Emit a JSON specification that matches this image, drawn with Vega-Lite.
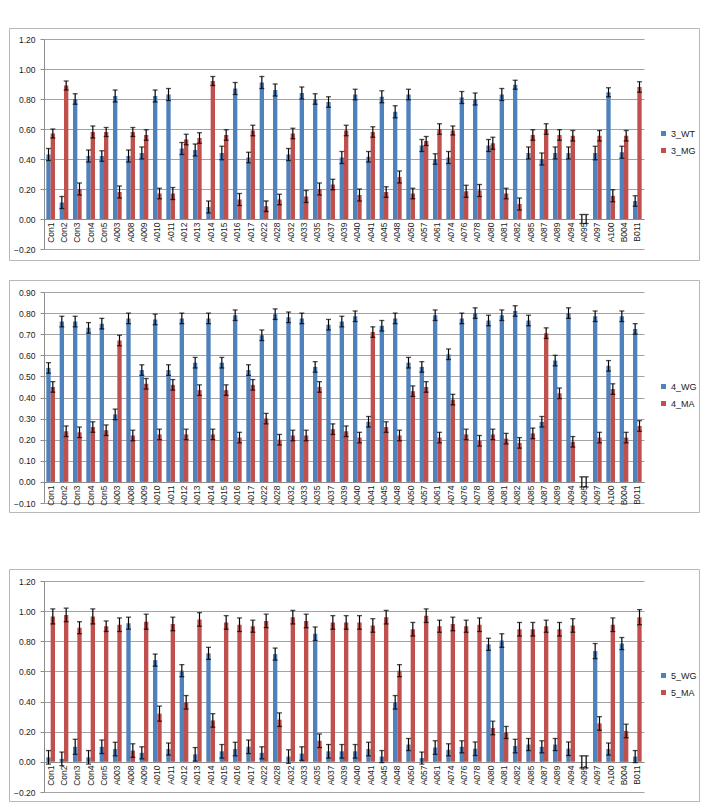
{
"$schema": "https://vega.github.io/schema/vega-lite/v6.json",
"padding": {"left": 8, "top": 27, "right": 0, "bottom": 0},
"config": {
 "font": "Liberation Sans",
 "view": {"stroke": "#b8b8b8", "strokeWidth": 1},
 "axis": {"labelColor": "#1a1a1a", "labelFontSize": 8.5, "labelOverlap": false, "domainColor": "#8c8c8c", "tickColor": "#8c8c8c", "gridColor": "#8c8c8c", "gridWidth": 0.8, "domainWidth": 1},
 "legend": {"labelFontSize": 9, "labelColor": "#1a1a1a", "symbolType": "square", "symbolSize": 25, "symbolStrokeWidth": 0, "rowPadding": 7, "labelOffset": 3, "padding": 0}
},
"datasets": {
"p3": [
{"s":"Con1","g":"3_WT","v":0.43,"lo":0.39,"hi":0.47},{"s":"Con1","g":"3_MG","v":0.57,"lo":0.54,"hi":0.60},
{"s":"Con2","g":"3_WT","v":0.11,"lo":0.07,"hi":0.15},{"s":"Con2","g":"3_MG","v":0.89,"lo":0.86,"hi":0.92},
{"s":"Con3","g":"3_WT","v":0.80,"lo":0.765,"hi":0.835},{"s":"Con3","g":"3_MG","v":0.20,"lo":0.16,"hi":0.24},
{"s":"Con4","g":"3_WT","v":0.42,"lo":0.38,"hi":0.46},{"s":"Con4","g":"3_MG","v":0.58,"lo":0.54,"hi":0.62},
{"s":"Con5","g":"3_WT","v":0.42,"lo":0.385,"hi":0.455},{"s":"Con5","g":"3_MG","v":0.58,"lo":0.55,"hi":0.61},
{"s":"A003","g":"3_WT","v":0.82,"lo":0.78,"hi":0.86},{"s":"A003","g":"3_MG","v":0.18,"lo":0.14,"hi":0.22},
{"s":"A008","g":"3_WT","v":0.42,"lo":0.38,"hi":0.46},{"s":"A008","g":"3_MG","v":0.58,"lo":0.55,"hi":0.61},
{"s":"A009","g":"3_WT","v":0.44,"lo":0.40,"hi":0.48},{"s":"A009","g":"3_MG","v":0.56,"lo":0.525,"hi":0.595},
{"s":"A010","g":"3_WT","v":0.82,"lo":0.78,"hi":0.86},{"s":"A010","g":"3_MG","v":0.17,"lo":0.135,"hi":0.205},
{"s":"A011","g":"3_WT","v":0.83,"lo":0.79,"hi":0.87},{"s":"A011","g":"3_MG","v":0.17,"lo":0.13,"hi":0.21},
{"s":"A012","g":"3_WT","v":0.47,"lo":0.43,"hi":0.51},{"s":"A012","g":"3_MG","v":0.53,"lo":0.495,"hi":0.565},
{"s":"A013","g":"3_WT","v":0.46,"lo":0.42,"hi":0.50},{"s":"A013","g":"3_MG","v":0.54,"lo":0.505,"hi":0.575},
{"s":"A014","g":"3_WT","v":0.08,"lo":0.04,"hi":0.12},{"s":"A014","g":"3_MG","v":0.92,"lo":0.89,"hi":0.95},
{"s":"A015","g":"3_WT","v":0.44,"lo":0.395,"hi":0.485},{"s":"A015","g":"3_MG","v":0.56,"lo":0.525,"hi":0.595},
{"s":"A016","g":"3_WT","v":0.87,"lo":0.83,"hi":0.91},{"s":"A016","g":"3_MG","v":0.13,"lo":0.09,"hi":0.17},
{"s":"A017","g":"3_WT","v":0.41,"lo":0.375,"hi":0.445},{"s":"A017","g":"3_MG","v":0.59,"lo":0.555,"hi":0.625},
{"s":"A022","g":"3_WT","v":0.91,"lo":0.87,"hi":0.95},{"s":"A022","g":"3_MG","v":0.085,"lo":0.05,"hi":0.12},
{"s":"A028","g":"3_WT","v":0.86,"lo":0.82,"hi":0.90},{"s":"A028","g":"3_MG","v":0.13,"lo":0.095,"hi":0.165},
{"s":"A032","g":"3_WT","v":0.43,"lo":0.39,"hi":0.47},{"s":"A032","g":"3_MG","v":0.57,"lo":0.535,"hi":0.605},
{"s":"A033","g":"3_WT","v":0.84,"lo":0.80,"hi":0.88},{"s":"A033","g":"3_MG","v":0.15,"lo":0.11,"hi":0.19},
{"s":"A035","g":"3_WT","v":0.80,"lo":0.765,"hi":0.835},{"s":"A035","g":"3_MG","v":0.20,"lo":0.16,"hi":0.24},
{"s":"A037","g":"3_WT","v":0.78,"lo":0.745,"hi":0.815},{"s":"A037","g":"3_MG","v":0.23,"lo":0.195,"hi":0.265},
{"s":"A039","g":"3_WT","v":0.41,"lo":0.37,"hi":0.45},{"s":"A039","g":"3_MG","v":0.59,"lo":0.555,"hi":0.625},
{"s":"A040","g":"3_WT","v":0.83,"lo":0.795,"hi":0.865},{"s":"A040","g":"3_MG","v":0.16,"lo":0.12,"hi":0.20},
{"s":"A041","g":"3_WT","v":0.415,"lo":0.38,"hi":0.45},{"s":"A041","g":"3_MG","v":0.58,"lo":0.545,"hi":0.615},
{"s":"A045","g":"3_WT","v":0.815,"lo":0.775,"hi":0.855},{"s":"A045","g":"3_MG","v":0.18,"lo":0.145,"hi":0.215},
{"s":"A048","g":"3_WT","v":0.715,"lo":0.675,"hi":0.755},{"s":"A048","g":"3_MG","v":0.28,"lo":0.24,"hi":0.32},
{"s":"A050","g":"3_WT","v":0.83,"lo":0.795,"hi":0.865},{"s":"A050","g":"3_MG","v":0.17,"lo":0.135,"hi":0.205},
{"s":"A057","g":"3_WT","v":0.49,"lo":0.45,"hi":0.53},{"s":"A057","g":"3_MG","v":0.52,"lo":0.49,"hi":0.55},
{"s":"A061","g":"3_WT","v":0.40,"lo":0.365,"hi":0.435},{"s":"A061","g":"3_MG","v":0.60,"lo":0.565,"hi":0.635},
{"s":"A074","g":"3_WT","v":0.41,"lo":0.37,"hi":0.45},{"s":"A074","g":"3_MG","v":0.59,"lo":0.56,"hi":0.62},
{"s":"A076","g":"3_WT","v":0.81,"lo":0.77,"hi":0.85},{"s":"A076","g":"3_MG","v":0.185,"lo":0.145,"hi":0.225},
{"s":"A078","g":"3_WT","v":0.80,"lo":0.76,"hi":0.84},{"s":"A078","g":"3_MG","v":0.19,"lo":0.15,"hi":0.23},
{"s":"A080","g":"3_WT","v":0.49,"lo":0.45,"hi":0.53},{"s":"A080","g":"3_MG","v":0.505,"lo":0.465,"hi":0.545},
{"s":"A081","g":"3_WT","v":0.83,"lo":0.79,"hi":0.87},{"s":"A081","g":"3_MG","v":0.17,"lo":0.135,"hi":0.205},
{"s":"A082","g":"3_WT","v":0.895,"lo":0.865,"hi":0.925},{"s":"A082","g":"3_MG","v":0.10,"lo":0.06,"hi":0.14},
{"s":"A085","g":"3_WT","v":0.44,"lo":0.40,"hi":0.48},{"s":"A085","g":"3_MG","v":0.56,"lo":0.525,"hi":0.595},
{"s":"A087","g":"3_WT","v":0.40,"lo":0.36,"hi":0.44},{"s":"A087","g":"3_MG","v":0.60,"lo":0.565,"hi":0.635},
{"s":"A089","g":"3_WT","v":0.44,"lo":0.40,"hi":0.48},{"s":"A089","g":"3_MG","v":0.56,"lo":0.525,"hi":0.595},
{"s":"A094","g":"3_WT","v":0.44,"lo":0.40,"hi":0.48},{"s":"A094","g":"3_MG","v":0.555,"lo":0.52,"hi":0.59},
{"s":"A095","g":"3_WT","v":0,"lo":-0.03,"hi":0.03},{"s":"A095","g":"3_MG","v":0,"lo":-0.03,"hi":0.03},
{"s":"A097","g":"3_WT","v":0.44,"lo":0.395,"hi":0.485},{"s":"A097","g":"3_MG","v":0.555,"lo":0.52,"hi":0.59},
{"s":"A100","g":"3_WT","v":0.845,"lo":0.815,"hi":0.875},{"s":"A100","g":"3_MG","v":0.155,"lo":0.115,"hi":0.195},
{"s":"B004","g":"3_WT","v":0.445,"lo":0.405,"hi":0.485},{"s":"B004","g":"3_MG","v":0.555,"lo":0.52,"hi":0.59},
{"s":"B011","g":"3_WT","v":0.12,"lo":0.085,"hi":0.155},{"s":"B011","g":"3_MG","v":0.88,"lo":0.845,"hi":0.915}
],
"p4": [
{"s":"Con1","g":"4_WG","v":0.54,"lo":0.515,"hi":0.565},{"s":"Con1","g":"4_MA","v":0.45,"lo":0.425,"hi":0.475},
{"s":"Con2","g":"4_WG","v":0.76,"lo":0.735,"hi":0.785},{"s":"Con2","g":"4_MA","v":0.24,"lo":0.215,"hi":0.265},
{"s":"Con3","g":"4_WG","v":0.76,"lo":0.735,"hi":0.785},{"s":"Con3","g":"4_MA","v":0.235,"lo":0.21,"hi":0.26},
{"s":"Con4","g":"4_WG","v":0.73,"lo":0.705,"hi":0.755},{"s":"Con4","g":"4_MA","v":0.26,"lo":0.235,"hi":0.285},
{"s":"Con5","g":"4_WG","v":0.75,"lo":0.725,"hi":0.775},{"s":"Con5","g":"4_MA","v":0.245,"lo":0.22,"hi":0.27},
{"s":"A003","g":"4_WG","v":0.32,"lo":0.295,"hi":0.345},{"s":"A003","g":"4_MA","v":0.67,"lo":0.645,"hi":0.695},
{"s":"A008","g":"4_WG","v":0.775,"lo":0.75,"hi":0.80},{"s":"A008","g":"4_MA","v":0.22,"lo":0.195,"hi":0.245},
{"s":"A009","g":"4_WG","v":0.53,"lo":0.505,"hi":0.555},{"s":"A009","g":"4_MA","v":0.465,"lo":0.44,"hi":0.49},
{"s":"A010","g":"4_WG","v":0.77,"lo":0.745,"hi":0.795},{"s":"A010","g":"4_MA","v":0.225,"lo":0.20,"hi":0.25},
{"s":"A011","g":"4_WG","v":0.53,"lo":0.505,"hi":0.555},{"s":"A011","g":"4_MA","v":0.46,"lo":0.435,"hi":0.485},
{"s":"A012","g":"4_WG","v":0.775,"lo":0.75,"hi":0.80},{"s":"A012","g":"4_MA","v":0.225,"lo":0.20,"hi":0.25},
{"s":"A013","g":"4_WG","v":0.565,"lo":0.54,"hi":0.59},{"s":"A013","g":"4_MA","v":0.435,"lo":0.41,"hi":0.46},
{"s":"A014","g":"4_WG","v":0.775,"lo":0.75,"hi":0.80},{"s":"A014","g":"4_MA","v":0.225,"lo":0.20,"hi":0.25},
{"s":"A015","g":"4_WG","v":0.565,"lo":0.54,"hi":0.59},{"s":"A015","g":"4_MA","v":0.435,"lo":0.41,"hi":0.46},
{"s":"A016","g":"4_WG","v":0.79,"lo":0.765,"hi":0.815},{"s":"A016","g":"4_MA","v":0.21,"lo":0.185,"hi":0.235},
{"s":"A017","g":"4_WG","v":0.53,"lo":0.505,"hi":0.555},{"s":"A017","g":"4_MA","v":0.46,"lo":0.435,"hi":0.485},
{"s":"A022","g":"4_WG","v":0.695,"lo":0.67,"hi":0.72},{"s":"A022","g":"4_MA","v":0.30,"lo":0.275,"hi":0.325},
{"s":"A028","g":"4_WG","v":0.795,"lo":0.77,"hi":0.82},{"s":"A028","g":"4_MA","v":0.20,"lo":0.175,"hi":0.225},
{"s":"A032","g":"4_WG","v":0.78,"lo":0.755,"hi":0.805},{"s":"A032","g":"4_MA","v":0.22,"lo":0.195,"hi":0.245},
{"s":"A033","g":"4_WG","v":0.775,"lo":0.75,"hi":0.80},{"s":"A033","g":"4_MA","v":0.22,"lo":0.195,"hi":0.245},
{"s":"A035","g":"4_WG","v":0.545,"lo":0.52,"hi":0.57},{"s":"A035","g":"4_MA","v":0.45,"lo":0.425,"hi":0.475},
{"s":"A037","g":"4_WG","v":0.745,"lo":0.72,"hi":0.77},{"s":"A037","g":"4_MA","v":0.25,"lo":0.225,"hi":0.275},
{"s":"A039","g":"4_WG","v":0.76,"lo":0.735,"hi":0.785},{"s":"A039","g":"4_MA","v":0.24,"lo":0.215,"hi":0.265},
{"s":"A040","g":"4_WG","v":0.785,"lo":0.76,"hi":0.81},{"s":"A040","g":"4_MA","v":0.21,"lo":0.185,"hi":0.235},
{"s":"A041","g":"4_WG","v":0.285,"lo":0.26,"hi":0.31},{"s":"A041","g":"4_MA","v":0.71,"lo":0.685,"hi":0.735},
{"s":"A045","g":"4_WG","v":0.74,"lo":0.715,"hi":0.765},{"s":"A045","g":"4_MA","v":0.26,"lo":0.235,"hi":0.285},
{"s":"A048","g":"4_WG","v":0.775,"lo":0.75,"hi":0.80},{"s":"A048","g":"4_MA","v":0.22,"lo":0.195,"hi":0.245},
{"s":"A050","g":"4_WG","v":0.565,"lo":0.54,"hi":0.59},{"s":"A050","g":"4_MA","v":0.43,"lo":0.405,"hi":0.455},
{"s":"A057","g":"4_WG","v":0.545,"lo":0.52,"hi":0.57},{"s":"A057","g":"4_MA","v":0.45,"lo":0.425,"hi":0.475},
{"s":"A061","g":"4_WG","v":0.79,"lo":0.765,"hi":0.815},{"s":"A061","g":"4_MA","v":0.21,"lo":0.185,"hi":0.235},
{"s":"A074","g":"4_WG","v":0.605,"lo":0.58,"hi":0.63},{"s":"A074","g":"4_MA","v":0.39,"lo":0.365,"hi":0.415},
{"s":"A076","g":"4_WG","v":0.775,"lo":0.75,"hi":0.80},{"s":"A076","g":"4_MA","v":0.225,"lo":0.20,"hi":0.25},
{"s":"A078","g":"4_WG","v":0.80,"lo":0.775,"hi":0.825},{"s":"A078","g":"4_MA","v":0.195,"lo":0.17,"hi":0.22},
{"s":"A080","g":"4_WG","v":0.765,"lo":0.74,"hi":0.79},{"s":"A080","g":"4_MA","v":0.225,"lo":0.20,"hi":0.25},
{"s":"A081","g":"4_WG","v":0.79,"lo":0.765,"hi":0.815},{"s":"A081","g":"4_MA","v":0.205,"lo":0.18,"hi":0.23},
{"s":"A082","g":"4_WG","v":0.81,"lo":0.785,"hi":0.835},{"s":"A082","g":"4_MA","v":0.185,"lo":0.16,"hi":0.21},
{"s":"A085","g":"4_WG","v":0.765,"lo":0.74,"hi":0.79},{"s":"A085","g":"4_MA","v":0.23,"lo":0.205,"hi":0.255},
{"s":"A087","g":"4_WG","v":0.285,"lo":0.26,"hi":0.31},{"s":"A087","g":"4_MA","v":0.705,"lo":0.68,"hi":0.73},
{"s":"A089","g":"4_WG","v":0.575,"lo":0.55,"hi":0.60},{"s":"A089","g":"4_MA","v":0.42,"lo":0.395,"hi":0.445},
{"s":"A094","g":"4_WG","v":0.80,"lo":0.775,"hi":0.825},{"s":"A094","g":"4_MA","v":0.19,"lo":0.165,"hi":0.215},
{"s":"A095","g":"4_WG","v":0,"lo":-0.024,"hi":0.024},{"s":"A095","g":"4_MA","v":0,"lo":-0.024,"hi":0.024},
{"s":"A097","g":"4_WG","v":0.785,"lo":0.76,"hi":0.81},{"s":"A097","g":"4_MA","v":0.21,"lo":0.185,"hi":0.235},
{"s":"A100","g":"4_WG","v":0.55,"lo":0.525,"hi":0.575},{"s":"A100","g":"4_MA","v":0.44,"lo":0.415,"hi":0.465},
{"s":"B004","g":"4_WG","v":0.785,"lo":0.76,"hi":0.81},{"s":"B004","g":"4_MA","v":0.21,"lo":0.185,"hi":0.235},
{"s":"B011","g":"4_WG","v":0.725,"lo":0.70,"hi":0.75},{"s":"B011","g":"4_MA","v":0.265,"lo":0.24,"hi":0.29}
],
"p5": [
{"s":"Con1","g":"5_WG","v":0.03,"lo":-0.015,"hi":0.075},{"s":"Con1","g":"5_MA","v":0.965,"lo":0.915,"hi":1.015},
{"s":"Con2","g":"5_WG","v":0.02,"lo":-0.025,"hi":0.065},{"s":"Con2","g":"5_MA","v":0.975,"lo":0.93,"hi":1.02},
{"s":"Con3","g":"5_WG","v":0.10,"lo":0.05,"hi":0.15},{"s":"Con3","g":"5_MA","v":0.89,"lo":0.85,"hi":0.93},
{"s":"Con4","g":"5_WG","v":0.03,"lo":-0.015,"hi":0.075},{"s":"Con4","g":"5_MA","v":0.965,"lo":0.915,"hi":1.015},
{"s":"Con5","g":"5_WG","v":0.10,"lo":0.055,"hi":0.145},{"s":"Con5","g":"5_MA","v":0.90,"lo":0.865,"hi":0.935},
{"s":"A003","g":"5_WG","v":0.085,"lo":0.04,"hi":0.13},{"s":"A003","g":"5_MA","v":0.91,"lo":0.865,"hi":0.955},
{"s":"A008","g":"5_WG","v":0.92,"lo":0.88,"hi":0.96},{"s":"A008","g":"5_MA","v":0.075,"lo":0.03,"hi":0.12},
{"s":"A009","g":"5_WG","v":0.06,"lo":0.02,"hi":0.10},{"s":"A009","g":"5_MA","v":0.93,"lo":0.88,"hi":0.98},
{"s":"A010","g":"5_WG","v":0.675,"lo":0.635,"hi":0.715},{"s":"A010","g":"5_MA","v":0.32,"lo":0.27,"hi":0.37},
{"s":"A011","g":"5_WG","v":0.085,"lo":0.045,"hi":0.125},{"s":"A011","g":"5_MA","v":0.915,"lo":0.87,"hi":0.96},
{"s":"A012","g":"5_WG","v":0.605,"lo":0.565,"hi":0.645},{"s":"A012","g":"5_MA","v":0.395,"lo":0.35,"hi":0.44},
{"s":"A013","g":"5_WG","v":0.05,"lo":0.005,"hi":0.095},{"s":"A013","g":"5_MA","v":0.945,"lo":0.90,"hi":0.99},
{"s":"A014","g":"5_WG","v":0.72,"lo":0.68,"hi":0.76},{"s":"A014","g":"5_MA","v":0.275,"lo":0.23,"hi":0.32},
{"s":"A015","g":"5_WG","v":0.07,"lo":0.025,"hi":0.115},{"s":"A015","g":"5_MA","v":0.925,"lo":0.88,"hi":0.97},
{"s":"A016","g":"5_WG","v":0.085,"lo":0.04,"hi":0.13},{"s":"A016","g":"5_MA","v":0.91,"lo":0.865,"hi":0.955},
{"s":"A017","g":"5_WG","v":0.10,"lo":0.055,"hi":0.145},{"s":"A017","g":"5_MA","v":0.90,"lo":0.86,"hi":0.94},
{"s":"A022","g":"5_WG","v":0.06,"lo":0.02,"hi":0.10},{"s":"A022","g":"5_MA","v":0.935,"lo":0.89,"hi":0.98},
{"s":"A028","g":"5_WG","v":0.715,"lo":0.675,"hi":0.755},{"s":"A028","g":"5_MA","v":0.28,"lo":0.235,"hi":0.325},
{"s":"A032","g":"5_WG","v":0.035,"lo":-0.01,"hi":0.08},{"s":"A032","g":"5_MA","v":0.96,"lo":0.915,"hi":1.005},
{"s":"A033","g":"5_WG","v":0.055,"lo":0.01,"hi":0.10},{"s":"A033","g":"5_MA","v":0.935,"lo":0.89,"hi":0.98},
{"s":"A035","g":"5_WG","v":0.85,"lo":0.805,"hi":0.895},{"s":"A035","g":"5_MA","v":0.14,"lo":0.095,"hi":0.185},
{"s":"A037","g":"5_WG","v":0.07,"lo":0.025,"hi":0.115},{"s":"A037","g":"5_MA","v":0.925,"lo":0.88,"hi":0.97},
{"s":"A039","g":"5_WG","v":0.07,"lo":0.025,"hi":0.115},{"s":"A039","g":"5_MA","v":0.925,"lo":0.88,"hi":0.97},
{"s":"A040","g":"5_WG","v":0.07,"lo":0.025,"hi":0.115},{"s":"A040","g":"5_MA","v":0.925,"lo":0.88,"hi":0.97},
{"s":"A041","g":"5_WG","v":0.085,"lo":0.04,"hi":0.13},{"s":"A041","g":"5_MA","v":0.905,"lo":0.86,"hi":0.95},
{"s":"A045","g":"5_WG","v":0.035,"lo":-0.005,"hi":0.075},{"s":"A045","g":"5_MA","v":0.96,"lo":0.915,"hi":1.005},
{"s":"A048","g":"5_WG","v":0.395,"lo":0.35,"hi":0.44},{"s":"A048","g":"5_MA","v":0.605,"lo":0.565,"hi":0.645},
{"s":"A050","g":"5_WG","v":0.115,"lo":0.075,"hi":0.155},{"s":"A050","g":"5_MA","v":0.88,"lo":0.835,"hi":0.925},
{"s":"A057","g":"5_WG","v":0.025,"lo":-0.015,"hi":0.065},{"s":"A057","g":"5_MA","v":0.97,"lo":0.925,"hi":1.015},
{"s":"A061","g":"5_WG","v":0.095,"lo":0.05,"hi":0.14},{"s":"A061","g":"5_MA","v":0.90,"lo":0.86,"hi":0.94},
{"s":"A074","g":"5_WG","v":0.08,"lo":0.04,"hi":0.12},{"s":"A074","g":"5_MA","v":0.915,"lo":0.87,"hi":0.96},
{"s":"A076","g":"5_WG","v":0.10,"lo":0.06,"hi":0.14},{"s":"A076","g":"5_MA","v":0.90,"lo":0.86,"hi":0.94},
{"s":"A078","g":"5_WG","v":0.087,"lo":0.042,"hi":0.132},{"s":"A078","g":"5_MA","v":0.91,"lo":0.865,"hi":0.955},
{"s":"A080","g":"5_WG","v":0.78,"lo":0.74,"hi":0.82},{"s":"A080","g":"5_MA","v":0.225,"lo":0.18,"hi":0.27},
{"s":"A081","g":"5_WG","v":0.805,"lo":0.76,"hi":0.85},{"s":"A081","g":"5_MA","v":0.195,"lo":0.155,"hi":0.235},
{"s":"A082","g":"5_WG","v":0.105,"lo":0.06,"hi":0.15},{"s":"A082","g":"5_MA","v":0.88,"lo":0.835,"hi":0.925},
{"s":"A085","g":"5_WG","v":0.115,"lo":0.075,"hi":0.155},{"s":"A085","g":"5_MA","v":0.88,"lo":0.835,"hi":0.925},
{"s":"A087","g":"5_WG","v":0.10,"lo":0.06,"hi":0.14},{"s":"A087","g":"5_MA","v":0.90,"lo":0.86,"hi":0.94},
{"s":"A089","g":"5_WG","v":0.115,"lo":0.075,"hi":0.155},{"s":"A089","g":"5_MA","v":0.88,"lo":0.835,"hi":0.925},
{"s":"A094","g":"5_WG","v":0.087,"lo":0.042,"hi":0.132},{"s":"A094","g":"5_MA","v":0.905,"lo":0.86,"hi":0.95},
{"s":"A095","g":"5_WG","v":0,"lo":-0.04,"hi":0.04},{"s":"A095","g":"5_MA","v":0,"lo":-0.04,"hi":0.04},
{"s":"A097","g":"5_WG","v":0.735,"lo":0.685,"hi":0.785},{"s":"A097","g":"5_MA","v":0.255,"lo":0.21,"hi":0.30},
{"s":"A100","g":"5_WG","v":0.085,"lo":0.045,"hi":0.125},{"s":"A100","g":"5_MA","v":0.91,"lo":0.865,"hi":0.955},
{"s":"B004","g":"5_WG","v":0.785,"lo":0.745,"hi":0.825},{"s":"B004","g":"5_MA","v":0.205,"lo":0.16,"hi":0.25},
{"s":"B011","g":"5_WG","v":0.035,"lo":-0.005,"hi":0.075},{"s":"B011","g":"5_MA","v":0.96,"lo":0.91,"hi":1.01}
]
},
"spacing": 55,
"resolve": {"scale": {"x": "independent", "y": "independent", "xOffset": "independent", "color": "independent"}, "legend": {"color": "independent"}},
"vconcat": [
{
"spacing": 18,
"resolve": {"scale": {"x": "independent", "y": "independent", "xOffset": "independent", "color": "independent"}, "legend": {"color": "independent"}},
"vconcat": [
{
 "width": 690, "height": 232,
 "data": {"name": "p3"},
 "encoding": {
  "x": {"field": "s", "type": "nominal", "sort": null, "scale": {"range": [35, 635], "paddingInner": 0.35, "paddingOuter": 0.175}, "axis": {"title": null, "labelAngle": 270, "offset": -41, "ticks": false, "labelPadding": 3, "grid": false}},
  "xOffset": {"field": "g", "type": "nominal", "scale": {"domain": ["3_WT", "3_MG"]}}
 },
 "layer": [
  {"mark": {"type": "bar"}, "encoding": {
    "y": {"field": "v", "type": "quantitative", "title": null, "scale": {"domain": [-0.2, 1.2], "range": [221, 11], "nice": false, "zero": false}, "axis": {"values": [-0.2, 0, 0.2, 0.4, 0.6, 0.8, 1, 1.2], "tickCount": 30, "format": ".2f", "offset": -35, "grid": true, "tickSize": 4, "labelPadding": 5}},
    "color": {"field": "g", "type": "nominal", "scale": {"domain": ["3_WT", "3_MG"], "range": ["#4F81BD", "#C0504D"]}, "legend": {"title": null, "orient": "none", "legendX": 650, "legendY": 101}}}},
  {"mark": {"type": "rule", "color": "#000", "strokeWidth": 1.2}, "encoding": {"y": {"field": "lo", "type": "quantitative", "title": null}, "y2": {"field": "hi"}}},
  {"mark": {"type": "tick", "color": "#000", "size": 5, "thickness": 1.3}, "encoding": {"y": {"field": "lo", "type": "quantitative", "title": null}}},
  {"mark": {"type": "tick", "color": "#000", "size": 5, "thickness": 1.3}, "encoding": {"y": {"field": "hi", "type": "quantitative", "title": null}}}
 ]
},
{
 "width": 690, "height": 232,
 "data": {"name": "p4"},
 "encoding": {
  "x": {"field": "s", "type": "nominal", "sort": null, "scale": {"range": [35, 635], "paddingInner": 0.35, "paddingOuter": 0.175}, "axis": {"title": null, "labelAngle": 270, "offset": -30, "ticks": false, "labelPadding": 3, "grid": false}},
  "xOffset": {"field": "g", "type": "nominal", "scale": {"domain": ["4_WG", "4_MA"]}}
 },
 "layer": [
  {"mark": {"type": "bar"}, "encoding": {
    "y": {"field": "v", "type": "quantitative", "title": null, "scale": {"domain": [-0.1, 0.9], "range": [223, 12], "nice": false, "zero": false}, "axis": {"values": [-0.1, 0, 0.1, 0.2, 0.3, 0.4, 0.5, 0.6, 0.7, 0.8, 0.9], "tickCount": 30, "format": ".2f", "offset": -35, "grid": true, "tickSize": 4, "labelPadding": 5}},
    "color": {"field": "g", "type": "nominal", "scale": {"domain": ["4_WG", "4_MA"], "range": ["#4F81BD", "#C0504D"]}, "legend": {"title": null, "orient": "none", "legendX": 650, "legendY": 102}}}},
  {"mark": {"type": "rule", "color": "#000", "strokeWidth": 1.2}, "encoding": {"y": {"field": "lo", "type": "quantitative", "title": null}, "y2": {"field": "hi"}}},
  {"mark": {"type": "tick", "color": "#000", "size": 5, "thickness": 1.3}, "encoding": {"y": {"field": "lo", "type": "quantitative", "title": null}}},
  {"mark": {"type": "tick", "color": "#000", "size": 5, "thickness": 1.3}, "encoding": {"y": {"field": "hi", "type": "quantitative", "title": null}}}
 ]
}
]
},
{
 "width": 690, "height": 232,
 "data": {"name": "p5"},
 "encoding": {
  "x": {"field": "s", "type": "nominal", "sort": null, "scale": {"range": [35, 635], "paddingInner": 0.35, "paddingOuter": 0.175}, "axis": {"title": null, "labelAngle": 270, "offset": -39, "ticks": false, "labelPadding": 3, "grid": false}},
  "xOffset": {"field": "g", "type": "nominal", "scale": {"domain": ["5_WG", "5_MA"]}}
 },
 "layer": [
  {"mark": {"type": "bar"}, "encoding": {
    "y": {"field": "v", "type": "quantitative", "title": null, "scale": {"domain": [-0.2, 1.2], "range": [223, 12], "nice": false, "zero": false}, "axis": {"values": [-0.2, 0, 0.2, 0.4, 0.6, 0.8, 1, 1.2], "tickCount": 30, "format": ".2f", "offset": -35, "grid": true, "tickSize": 4, "labelPadding": 5}},
    "color": {"field": "g", "type": "nominal", "scale": {"domain": ["5_WG", "5_MA"], "range": ["#4F81BD", "#C0504D"]}, "legend": {"title": null, "orient": "none", "legendX": 650, "legendY": 102}}}},
  {"mark": {"type": "rule", "color": "#000", "strokeWidth": 1.2}, "encoding": {"y": {"field": "lo", "type": "quantitative", "title": null}, "y2": {"field": "hi"}}},
  {"mark": {"type": "tick", "color": "#000", "size": 5, "thickness": 1.3}, "encoding": {"y": {"field": "lo", "type": "quantitative", "title": null}}},
  {"mark": {"type": "tick", "color": "#000", "size": 5, "thickness": 1.3}, "encoding": {"y": {"field": "hi", "type": "quantitative", "title": null}}}
 ]
}
]
}
